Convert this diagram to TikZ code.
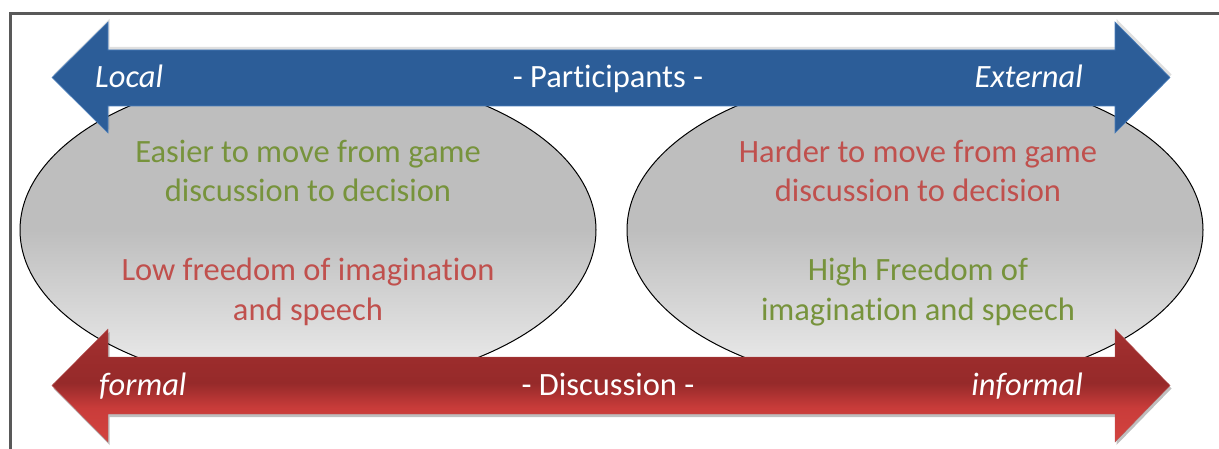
\documentclass[tikz,border=0pt]{standalone}
\usepackage{fontspec}
\setmainfont{Carlito}[Ligatures=NoCommon]
\usetikzlibrary{shadows}
\definecolor{framegray}{HTML}{595959}
\definecolor{arrowblue}{HTML}{2C5D98}
\definecolor{arrowblueedge}{HTML}{4A7EBB}
\definecolor{redtop}{HTML}{A53131}
\definecolor{redmid}{HTML}{962A2A}
\definecolor{redshafttop}{HTML}{9C2C2C}
\definecolor{redshaftbot}{HTML}{C93C3A}
\definecolor{redbot}{HTML}{D4443F}
\definecolor{txtgreen}{HTML}{77933C}
\definecolor{txtred}{HTML}{C0504D}
\definecolor{ellgray}{HTML}{BEBEBE}
\definecolor{elllight}{HTML}{F0F0F0}
\tikzset{
  ellbox/.style={draw=black, line width=1pt, shading=axis, top color=ellgray, bottom color=elllight, middle color=ellgray},
  arrshadow/.style={drop shadow={opacity=0.25, shadow xshift=1.5pt, shadow yshift=3pt}},
  bluearrow/.style={fill=arrowblue, draw=arrowblueedge, line width=0.6pt, arrshadow},
  redshape/.style={insert path={(52,385.5) -- (108,329) -- (108,357) -- (1115,357) -- (1115,329) -- (1170,385.5) -- (1115,442) -- (1115,414) -- (108,414) -- (108,442) -- cycle}},
  lbl/.style={font=\fontsize{32.5}{38}\selectfont, inner sep=0pt, anchor=base},
  endlbl/.style={lbl, text=white, font=\fontsize{32.5}{38}\selectfont\itshape},
  midlbl/.style={lbl, text=white},
  greentxt/.style={lbl, text=txtgreen},
  redtxt/.style={lbl, text=txtred}
}
\begin{document}
\begin{tikzpicture}[x=1pt, y=-1pt]
\useasboundingbox (0,0) rectangle (1219,449);
\fill[white] (0,0) rectangle (1219,449);
% frame
\draw[framegray, line width=3pt] (10,449) -- (10,14) -- (1219,14);
% ellipses
\path[ellbox] (308,230) ellipse [x radius=288, y radius=158];
\path[ellbox] (915,230) ellipse [x radius=288, y radius=158];
% blue arrow
\path[bluearrow] (52,77.5) -- (108,22) -- (108,50) -- (1115,50) -- (1115,22) -- (1170,77.5) -- (1115,133) -- (1115,106) -- (108,106) -- (108,133) -- cycle;
% red arrow: shadow, gradient strips clipped to the shape, outline
\path[fill=black, opacity=0.25, xshift=1.5pt, yshift=-3pt, redshape];
\begin{scope}
  \clip[redshape];
  \shade[top color=redtop, bottom color=redshafttop] (40,328) rectangle (1180,357);
  \shade[top color=redshafttop, bottom color=redmid] (40,357) rectangle (1180,383);
  \shade[top color=redmid, bottom color=redshaftbot] (40,383) rectangle (1180,408);
  \shade[top color=redshaftbot, bottom color=redbot] (40,408) rectangle (1180,443);
\end{scope}
\path[draw=redtop!80!white, line width=0.4pt, redshape];
% arrow labels
\node[endlbl, anchor=base west] (local) at (95,88) {Local};
\node[midlbl] (participants) at (608,88) {- Participants -};
\node[endlbl, anchor=base east] (external) at (1083,88) {External};
\node[endlbl, anchor=base west] (formal) at (99,395) {formal};
\node[midlbl] (discussion) at (608,395) {- Discussion -};
\node[endlbl, anchor=base east] (informal) at (1083,395) {informal};
% left ellipse text
\node[greentxt] (l1) at (308,163) {Easier to move from game};
\node[greentxt] (l2) at (308,202) {discussion to decision};
\node[redtxt] (l3) at (308,281) {Low freedom of imagination};
\node[redtxt] (l4) at (308,320) {and speech};
% right ellipse text
\node[redtxt] (r1) at (918,163) {Harder to move from game};
\node[redtxt] (r2) at (918,202) {discussion to decision};
\node[greentxt] (r3) at (918,281) {High Freedom of};
\node[greentxt] (r4) at (918,320) {imagination and speech};
\end{tikzpicture}
\end{document}
